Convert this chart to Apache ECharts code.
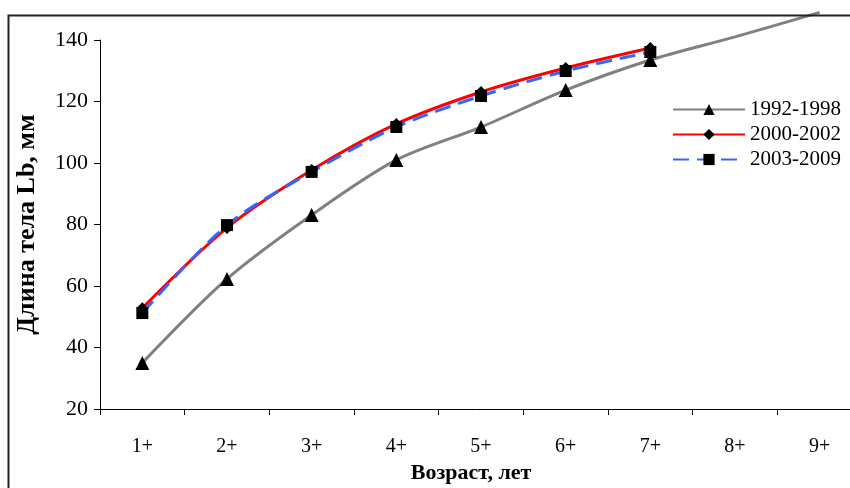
<!DOCTYPE html>
<html lang="ru">
<head>
  <meta charset="UTF-8">
  <title>Длина тела</title>
  <script src="https://cdn.jsdelivr.net/npm/echarts@6/dist/echarts.min.js"></script>
</head>
<body style="margin:0;width:850px;height:488px;overflow:hidden;background:#fff;">
  <div id="main" style="width:850px;height:488px;"></div>
</body>
<script>
  var ages = ['1+', '2+', '3+', '4+', '5+', '6+', '7+', '8+', '9+'];
  var s1992 = [35, 62.3, 83.1, 101, 111.7, 123.7, 133.5, 141, 149];
  var s2000 = [52.8, 78.9, 97.7, 112.7, 123.1, 130.9, 137.4];
  var s2003 = [51.2, 79.8, 97.1, 111.7, 121.8, 129.9, 136.1];
  var yTicks = { min: 20, max: 140, step: 20 };

  var font = 'Liberation Serif';
  var myChart = echarts.init(document.getElementById('main'));

  // у первой серии маркеры только до 7+
  var grayData = s1992.map(function (v, i) {
    return i < 7 ? v : { value: v, symbol: 'none' };
  });

  var option = {
    backgroundColor: '#fff',
    animation: false,
    graphic: [{
      type: 'rect',
      left: 6, top: 13,
      shape: { width: 900, height: 500 },
      style: { fill: 'none', stroke: '#222', lineWidth: 2 },
      z: 100
    }],
    // ось X уходит за правый край картинки
    grid: { left: 100, top: 40, width: 762, bottom: 79, outerBoundsMode: 'none', containLabel: false },
    legend: {
      orient: 'vertical',
      left: 667, top: 94,
      itemWidth: 72, itemHeight: 14, itemGap: 4,
      textStyle: { fontFamily: font, fontSize: 21, color: '#000' },
      data: ['1992-1998', '2000-2002', '2003-2009']
    },
    xAxis: {
      type: 'category',
      data: ages,
      boundaryGap: true,
      name: 'Возраст, лет',
      nameLocation: 'middle',
      nameGap: 49,
      nameTextStyle: { fontFamily: font, fontSize: 22, fontWeight: 'bold', color: '#000', padding: [0, 20, 0, 0] },
      axisLine: { lineStyle: { color: '#000', width: 1 } },
      axisTick: { show: true, length: 6, lineStyle: { color: '#000' } },
      axisLabel: { fontFamily: font, fontSize: 20, color: '#000', margin: 28 },
      splitLine: { show: false }
    },
    yAxis: {
      type: 'value',
      min: yTicks.min, max: yTicks.max, interval: yTicks.step,
      name: 'Длина тела Lb, мм',
      nameLocation: 'middle',
      nameGap: 60,
      nameTextStyle: { fontFamily: font, fontSize: 26, fontWeight: 'bold', color: '#000' },
      axisLine: { show: true, lineStyle: { color: '#000', width: 1 } },
      axisTick: { show: true, length: 6, lineStyle: { color: '#000' } },
      axisLabel: { fontFamily: font, fontSize: 22, color: '#000', margin: 12 },
      splitLine: { show: false }
    },
    series: [{
      name: '1992-1998',
      type: 'line',
      data: grayData,
      smooth: 0.3,
      clip: false,
      symbol: 'triangle',
      symbolSize: 14,
      itemStyle: { color: '#000' },
      lineStyle: { color: '#808080', width: 3 },
      z: 2
    }, {
      name: '2000-2002',
      type: 'line',
      data: s2000,
      smooth: 0.3,
      symbol: 'diamond',
      symbolSize: 12,
      itemStyle: { color: '#000' },
      lineStyle: { color: '#ff0000', width: 3 },
      z: 3
    }, {
      name: '2003-2009',
      type: 'line',
      data: s2003,
      smooth: 0.3,
      symbol: 'rect',
      symbolSize: 12,
      itemStyle: { color: '#000' },
      lineStyle: { color: '#3366ff', width: 3, type: [16, 8] },
      z: 4
    }]
  };

  myChart.setOption(option);
</script>
</html>
